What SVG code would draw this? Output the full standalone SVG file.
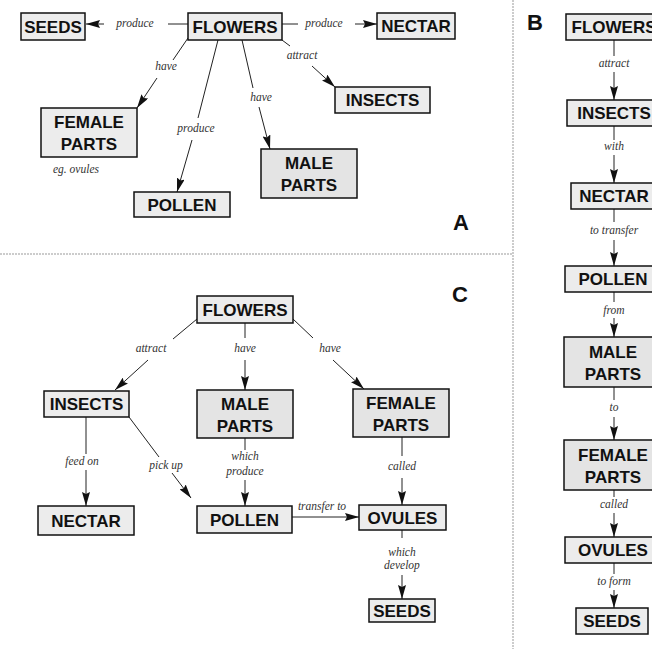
<svg xmlns="http://www.w3.org/2000/svg" width="652" height="649" viewBox="0 0 652 649">
  <style>
    .box { fill: #ececec; stroke: #111; stroke-width: 1.5; }
    .box2 { fill: #e4e4e4; stroke: #111; stroke-width: 1.5; }
    .nt { font-family: "Liberation Sans", Arial, sans-serif; font-weight: bold; font-size: 17px; fill: #111; text-anchor: middle; }
    .lt { font-family: "Liberation Serif", "Times New Roman", serif; font-style: italic; font-size: 11.5px; fill: #333; text-anchor: middle; }
    .ln { stroke: #222; stroke-width: 1; fill: none; }
    .ar { stroke: #222; stroke-width: 1; fill: none; marker-end: url(#ah); }
    .sep { stroke: #999; stroke-width: 1; stroke-dasharray: 2 1; fill: none; }
    .pl { font-family: "Liberation Sans", Arial, sans-serif; font-weight: bold; font-size: 22px; fill: #111; text-anchor: middle; }
  </style>
  <defs>
    <marker id="ah" viewBox="0 0 14 8" refX="14" refY="4" markerWidth="14" markerHeight="8" markerUnits="userSpaceOnUse" orient="auto">
      <path d="M0,0 L14,4 L0,8 L2,4 z" fill="#111"/>
    </marker>
  </defs>
  <rect width="652" height="649" fill="#ffffff"/>

  <!-- panel separators -->
  <g id="separators">
    <path class="sep" d="M0,254 H513"/>
    <path class="sep" d="M513,0 V649"/>
  </g>

  <!-- panel letters -->
  <g id="panel-labels">
    <text class="pl" x="461" y="230">A</text>
    <text class="pl" x="535" y="30">B</text>
    <text class="pl" x="460" y="302">C</text>
  </g>

  <!-- connectors: line segments, arrowheads and their italic labels -->
  <g id="connectors">
    <!-- panel A -->
    <path class="ln" d="M188,24 H168"/>
    <path class="ar" d="M104,24 H86"/>
    <text class="lt" x="135" y="27">produce</text>

    <path class="ln" d="M282,24 H298"/>
    <path class="ar" d="M355,24 H377"/>
    <text class="lt" x="324" y="27">produce</text>

    <path class="ln" d="M282,40 L290,46"/>
    <path class="ar" d="M312,66 L335,87"/>
    <text class="lt" x="302" y="59">attract</text>

    <path class="ln" d="M188,38 L173,60"/>
    <path class="ar" d="M157,78 L137,108"/>
    <text class="lt" x="166" y="70">have</text>

    <path class="ln" d="M218,40 L198,118"/>
    <path class="ar" d="M192,140 L177,192"/>
    <text class="lt" x="196" y="132">produce</text>

    <path class="ln" d="M242,40 L253,88"/>
    <path class="ar" d="M259,107 L270,149"/>
    <text class="lt" x="261" y="101">have</text>

    <text class="lt" x="76" y="173">eg. ovules</text>

    <!-- panel B -->
    <path class="ln" d="M614,40 V56"/>
    <path class="ar" d="M614,72 V100"/>
    <text class="lt" x="614" y="67">attract</text>

    <path class="ln" d="M614,126 V140"/>
    <path class="ar" d="M614,155 V183"/>
    <text class="lt" x="614" y="150">with</text>

    <path class="ln" d="M614,209 V222"/>
    <path class="ar" d="M614,240 V266"/>
    <text class="lt" x="614" y="234">to transfer</text>

    <path class="ln" d="M614,292 V302"/>
    <path class="ar" d="M614,318 V337"/>
    <text class="lt" x="614" y="314">from</text>

    <path class="ln" d="M614,387 V400"/>
    <path class="ar" d="M614,417 V440"/>
    <text class="lt" x="614" y="411">to</text>

    <path class="ln" d="M614,490 V497"/>
    <path class="ar" d="M614,513 V537"/>
    <text class="lt" x="614" y="508">called</text>

    <path class="ln" d="M614,563 V574"/>
    <path class="ar" d="M614,590 V608"/>
    <text class="lt" x="614" y="585">to form</text>

    <!-- panel C -->
    <path class="ln" d="M197,319 L173,339"/>
    <path class="ar" d="M148,360 L115,390"/>
    <text class="lt" x="151" y="352">attract</text>

    <path class="ln" d="M245,323 V338"/>
    <path class="ar" d="M245,360 V390"/>
    <text class="lt" x="245" y="352">have</text>

    <path class="ln" d="M293,319 L313,338"/>
    <path class="ar" d="M333,360 L364,389"/>
    <text class="lt" x="330" y="352">have</text>

    <path class="ln" d="M86,417 V454"/>
    <path class="ar" d="M86,470 V506"/>
    <text class="lt" x="82" y="465">feed on</text>

    <path class="ln" d="M129,417 L159,457"/>
    <path class="ar" d="M172,473 L191,498"/>
    <text class="lt" x="166" y="469">pick up</text>

    <path class="ln" d="M245,438 V450"/>
    <path class="ar" d="M245,480 V506"/>
    <text class="lt" x="245" y="460">which</text>
    <text class="lt" x="245" y="475">produce</text>

    <path class="ar" d="M292,517 H359"/>
    <text class="lt" x="322" y="510">transfer to</text>

    <path class="ln" d="M402,437 V456"/>
    <path class="ar" d="M402,478 V505"/>
    <text class="lt" x="402" y="470">called</text>

    <path class="ln" d="M402,530 V538"/>
    <path class="ar" d="M402,575 V599"/>
    <text class="lt" x="402" y="556">which</text>
    <text class="lt" x="402" y="569">develop</text>
  </g>

  <!-- panel A nodes -->
  <g id="a-seeds"><rect class="box" x="21" y="13" width="64" height="27"/><text class="nt" x="53" y="32.5">SEEDS</text></g>
  <g id="a-flowers"><rect class="box" x="188" y="13" width="94" height="27"/><text class="nt" x="235" y="32.5">FLOWERS</text></g>
  <g id="a-nectar"><rect class="box" x="377" y="13" width="78" height="26"/><text class="nt" x="416" y="32">NECTAR</text></g>
  <g id="a-insects"><rect class="box" x="335" y="87" width="95" height="26"/><text class="nt" x="382.5" y="106">INSECTS</text></g>
  <g id="a-female"><rect class="box" x="41" y="108" width="96" height="49"/><text class="nt" x="89" y="128">FEMALE</text><text class="nt" x="89" y="150">PARTS</text></g>
  <g id="a-pollen"><rect class="box" x="134" y="192" width="96" height="25"/><text class="nt" x="182" y="210.5">POLLEN</text></g>
  <g id="a-male"><rect class="box2" x="261" y="149" width="96" height="49"/><text class="nt" x="309" y="169">MALE</text><text class="nt" x="309" y="191">PARTS</text></g>

  <!-- panel B nodes -->
  <g id="b-flowers"><rect class="box" x="566" y="14" width="96" height="26"/><text class="nt" x="614" y="33">FLOWERS</text></g>
  <g id="b-insects"><rect class="box" x="567" y="100" width="95" height="26"/><text class="nt" x="614" y="119">INSECTS</text></g>
  <g id="b-nectar"><rect class="box" x="571" y="183" width="86" height="26"/><text class="nt" x="614" y="202">NECTAR</text></g>
  <g id="b-pollen"><rect class="box" x="565" y="266" width="96" height="26"/><text class="nt" x="613" y="285">POLLEN</text></g>
  <g id="b-male"><rect class="box2" x="564" y="337" width="98" height="50"/><text class="nt" x="613" y="358">MALE</text><text class="nt" x="613" y="380">PARTS</text></g>
  <g id="b-female"><rect class="box2" x="564" y="440" width="98" height="50"/><text class="nt" x="613" y="461">FEMALE</text><text class="nt" x="613" y="483">PARTS</text></g>
  <g id="b-ovules"><rect class="box" x="565" y="537" width="96" height="26"/><text class="nt" x="613" y="556">OVULES</text></g>
  <g id="b-seeds"><rect class="box" x="576" y="608" width="72" height="26"/><text class="nt" x="612" y="627">SEEDS</text></g>

  <!-- panel C nodes -->
  <g id="c-flowers"><rect class="box" x="197" y="296" width="96" height="27"/><text class="nt" x="245" y="315.5">FLOWERS</text></g>
  <g id="c-insects"><rect class="box" x="44" y="391" width="85" height="26"/><text class="nt" x="86.5" y="410">INSECTS</text></g>
  <g id="c-male"><rect class="box2" x="197" y="390" width="96" height="48"/><text class="nt" x="245" y="410">MALE</text><text class="nt" x="245" y="432">PARTS</text></g>
  <g id="c-female"><rect class="box2" x="353" y="389" width="96" height="48"/><text class="nt" x="401" y="409">FEMALE</text><text class="nt" x="401" y="431">PARTS</text></g>
  <g id="c-nectar"><rect class="box" x="38" y="506" width="96" height="29"/><text class="nt" x="86" y="526.5">NECTAR</text></g>
  <g id="c-pollen"><rect class="box" x="197" y="506" width="95" height="27"/><text class="nt" x="244.5" y="525.5">POLLEN</text></g>
  <g id="c-ovules"><rect class="box" x="359" y="505" width="87" height="25"/><text class="nt" x="402.5" y="523.5">OVULES</text></g>
  <g id="c-seeds"><rect class="box" x="369" y="599" width="66" height="23"/><text class="nt" x="402" y="616.5">SEEDS</text></g>
</svg>
